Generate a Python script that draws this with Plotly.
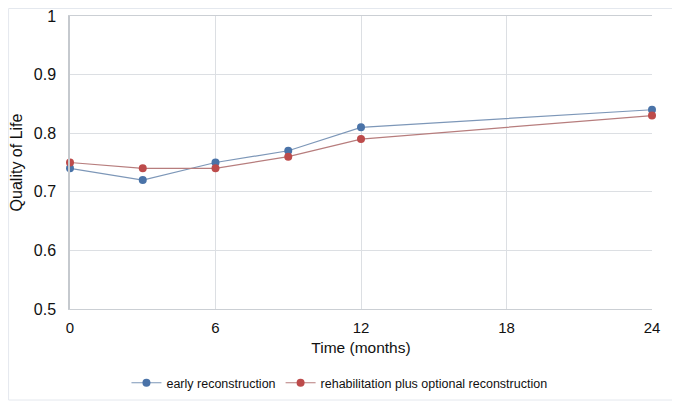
import plotly.graph_objects as go

# Data
months = [0, 3, 6, 9, 12, 24]
early = [0.74, 0.72, 0.75, 0.77, 0.81, 0.84]
rehab = [0.75, 0.74, 0.74, 0.76, 0.79, 0.83]
series_names = ['early reconstruction', 'rehabilitation plus optional reconstruction']
x_ticks = [0, 6, 12, 18, 24]
y_ticks = [0.5, 0.6, 0.7, 0.8, 0.9, 1]
y_tick_labels = ['0.5', '0.6', '0.7', '0.8', '0.9', '1']

fig = go.Figure()

fig.add_trace(go.Scatter(
    x=months, y=early, mode='lines+markers', name=series_names[0],
    line=dict(color='#7d97b8', width=1.2),
    marker=dict(size=8, color='#4a73a8'),
    cliponaxis=False
))
fig.add_trace(go.Scatter(
    x=months, y=rehab, mode='lines+markers', name=series_names[1],
    line=dict(color='#b77d7d', width=1.2),
    marker=dict(size=8, color='#bd4b4b'),
    cliponaxis=False
))

# page has an 8px body margin, so margins are shifted to line up with the reference
fig.update_layout(
    width=680, height=405,
    margin=dict(l=62, r=36, t=8, b=104, autoexpand=False),
    paper_bgcolor='white', plot_bgcolor='white',
    font=dict(family='Liberation Sans, Arial, sans-serif', size=14, color='#111111'),
    showlegend=True,
    legend=dict(orientation='h', x=0.463, xanchor='center', y=-0.253, yanchor='middle',
                font=dict(size=12.5), itemwidth=30),
    shapes=[
        # faint outer frame
        dict(type='rect', xref='paper', yref='paper', x0=0.001 - 62 / 582, x1=1.0395,
             y0=-0.3106, y1=1.0256, line=dict(color='#e4e8ee', width=1)),
    ]
)

fig.update_xaxes(
    range=[0, 24], tickvals=x_ticks, title_text='Time (months)',
    showgrid=True, gridcolor='#dcdfe3', gridwidth=1,
    showline=True, linecolor='#cbcfd4', linewidth=1.4, mirror=True,
    zeroline=False, ticks='', ticklabelstandoff=5, title_standoff=6,
    tickfont=dict(size=15), title_font=dict(size=15.5), automargin=False,
    ticklabeloverflow='allow'
)
fig.update_yaxes(
    range=[0.5, 1], tickvals=y_ticks, ticktext=y_tick_labels, title_text='Quality of Life',
    showgrid=True, gridcolor='#dcdfe3', gridwidth=1,
    showline=True, linecolor='#c5c9ce', linewidth=1.5,
    zeroline=False, ticks='', ticklabelstandoff=9, title_standoff=8,
    tickfont=dict(size=16), title_font=dict(size=16), automargin=False,
    ticklabeloverflow='allow'
)

fig.write_html('out.html')
